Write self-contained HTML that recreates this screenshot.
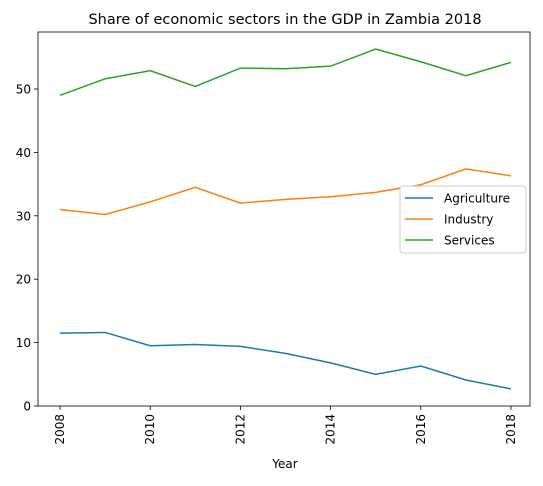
<!DOCTYPE html>
<html><head><meta charset="utf-8"><style>
body{margin:0;background:#fff;font-family:"Liberation Sans","DejaVu Sans",sans-serif;}
text{font-family:"DejaVu Sans","Liberation Sans",sans-serif;}
</style></head><body>
<svg id="chart" width="543" height="481" xmlns="http://www.w3.org/2000/svg">
<text x="285" y="24" text-anchor="middle" font-size="14.5">Share of economic sectors in the GDP in Zambia 2018</text>
<g id="axes"></g>
<g id="series"></g>
<g>
<rect x="400" y="186" width="126" height="67" rx="3" fill="#fff" stroke="#ccc"/>
<line x1="405" y1="198" x2="433" y2="198" stroke="#1f77b4" stroke-width="1.5"/>
<text x="444" y="202.5" font-size="12">Agriculture</text>
<line x1="405" y1="219" x2="433" y2="219" stroke="#ff7f0e" stroke-width="1.5"/>
<text x="444" y="223.5" font-size="12">Industry</text>
<line x1="405" y1="240" x2="433" y2="240" stroke="#2ca02c" stroke-width="1.5"/>
<text x="444" y="244.5" font-size="12">Services</text>
</g>
<text x="285" y="468" text-anchor="middle" font-size="12">Year</text>
</svg>
<script>
const years=[2008,2009,2010,2011,2012,2013,2014,2015,2016,2017,2018];
const agriculture=[11.5,11.6,9.5,9.7,9.4,8.3,6.8,5.0,6.3,4.1,2.7];
const industry=[31.0,30.2,32.2,34.5,32.0,32.6,33.0,33.7,34.9,37.4,36.3];
const services=[49.0,51.6,52.9,50.4,53.3,53.2,53.6,56.3,54.3,52.1,54.2];
const xTicks=[2008,2010,2012,2014,2016,2018];
const yTicks=[0,10,20,30,40,50];
const NS="http://www.w3.org/2000/svg";
const L=38,R=530,T=32,B=406;
const xs=v=>60+(v-2008)*(511-60)/10;
const ys=v=>406-v*(406-89)/50;
function mk(tag,attrs,parent){const e=document.createElementNS(NS,tag);for(const k in attrs)e.setAttribute(k,attrs[k]);parent.appendChild(e);return e;}
const ax=document.getElementById('axes');
const frame=mk('rect',{x:L,y:T,width:R-L,height:B-T,fill:'none',stroke:'#000','stroke-width':0.8},ax);


xTicks.forEach(t=>{
  mk('line',{x1:xs(t),x2:xs(t),y1:B,y2:B+4,stroke:'#000','stroke-width':0.8},ax);
  const tx=mk('text',{x:0,y:0,'font-size':12,'text-anchor':'end',transform:`translate(${xs(t)+4},${B+8}) rotate(-90)`},ax);
  tx.textContent=t;
  
  
});
yTicks.forEach(t=>{
  mk('line',{x1:L-4,x2:L,y1:ys(t),y2:ys(t),stroke:'#000','stroke-width':0.8},ax);
  const tx=mk('text',{x:L-7,y:ys(t)+4.5,'font-size':12,'text-anchor':'end'},ax);
  tx.textContent=t;
  
  
});
const sg=document.getElementById('series');
[[agriculture,'#1f77b4','agriculture-line'],[industry,'#ff7f0e','industry-line'],[services,'#2ca02c','services-line']].forEach(([d,c,n])=>{
  const p=mk('polyline',{points:d.map((v,i)=>xs(years[i])+','+ys(v)).join(' '),fill:'none',stroke:c,'stroke-width':1.5},sg);
  
  
});
</script>
</body></html>
